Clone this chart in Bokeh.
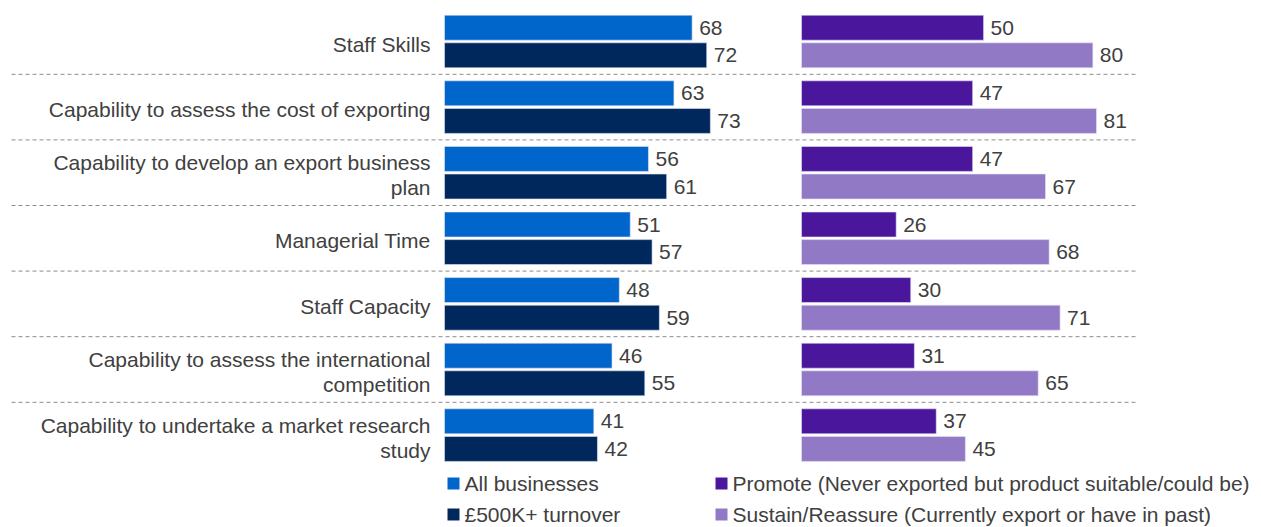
from bokeh.plotting import figure
from bokeh.models import ColumnDataSource, Range1d
from bokeh.core.properties import value
from bokeh.embed import file_html
from bokeh.resources import INLINE

# ---------------- data ----------------
categories = [
    "Staff Skills",
    "Capability to assess the cost of exporting",
    "Capability to develop an export business\nplan",
    "Managerial Time",
    "Staff Capacity",
    "Capability to assess the international\ncompetition",
    "Capability to undertake a market research\nstudy",
]
all_businesses = [68, 63, 56, 51, 48, 46, 41]
turnover_500k = [72, 73, 61, 57, 59, 55, 42]
promote = [50, 47, 47, 26, 30, 31, 37]
sustain = [80, 81, 67, 68, 71, 65, 45]
series_names = [
    "All businesses",
    "£500K+ turnover",
    "Promote (Never exported but product suitable/could be)",
    "Sustain/Reassure (Currently export or have in past)",
]

# ---------------- layout constants ----------------
W, H = 1261, 527
MARGIN = 0
S = 3.642            # px per percentage point
X0_IMG = 444         # left panel bar origin (image px)
PITCH = 65.6         # px per category group
Y0_IMG = 41          # first group centre (image px)
RIGHT_OFFSET = (801 - X0_IMG) / S

def xd(img_x):
    return (img_x - X0_IMG) / S

def yd(img_y):
    return (img_y - Y0_IMG) / PITCH

COLORS = ["#0066CC", "#00285C", "#4A169C", "#9179C6"]
TEXT = "#404040"
FONT = value("Liberation Sans")
FS = "21px"

p = figure(
    width=W, height=H,
    x_range=Range1d(xd(MARGIN), xd(MARGIN + W)),
    y_range=Range1d(yd(MARGIN + H), yd(MARGIN)),
    x_axis_location=None, y_axis_location=None,
    toolbar_location=None, output_backend="svg",
    min_border=0,
)
p.outline_line_color = None
p.xgrid.visible = False
p.ygrid.visible = False
p.background_fill_color = "white"
p.border_fill_color = "white"

n = len(categories)
idx = list(range(n))
BAR_H = 25 / PITCH
OFF = 13.8 / PITCH

bars = [
    (all_businesses, 0.0, -OFF, COLORS[0]),
    (turnover_500k, 0.0, OFF, COLORS[1]),
    (promote, RIGHT_OFFSET, -OFF, COLORS[2]),
    (sustain, RIGHT_OFFSET, OFF, COLORS[3]),
]
for vals, base, dy, col in bars:
    src = ColumnDataSource(dict(
        y=[i + dy for i in idx],
        left=[base] * n,
        right=[base + v for v in vals],
        lab=[str(v) for v in vals],
    ))
    p.hbar(y="y", left="left", right="right", height=BAR_H, source=src,
           fill_color=col, line_color="#E6E6F5", line_width=0.6)
    p.text(x="right", y="y", text="lab", source=src, x_offset=7,
           text_font=FONT, text_font_size=FS, text_color=TEXT,
           text_align="left", text_baseline="middle")

# separators
for i in range(n - 1):
    p.line(x=[xd(11), xd(1136)], y=[i + 0.5, i + 0.5],
           line_color="#8C8C8C", line_width=1, line_dash="4 3")

# category labels
lab_src = ColumnDataSource(dict(x=[xd(430)] * n, y=[i + 0.04 for i in idx], text=categories))
p.text(x="x", y="y", text="text", source=lab_src,
       text_font=FONT, text_font_size=FS, text_color=TEXT,
       text_align="right", text_baseline="middle", text_line_height=1.1)

# legend
leg_sq_x = [xd(453), xd(453), xd(721), xd(721)]
leg_tx_x = [xd(464), xd(464), xd(732), xd(732)]
leg_y = [yd(483), yd(514), yd(483), yd(514)]
p.scatter(x=leg_sq_x, y=leg_y, marker="square", size=12,
          fill_color=COLORS, line_color=None)
p.text(x=leg_tx_x, y=leg_y, text=series_names,
       text_font=FONT, text_font_size=FS, text_color=TEXT,
       text_align="left", text_baseline="middle")

open("out.html", "w").write(file_html(p, INLINE))
